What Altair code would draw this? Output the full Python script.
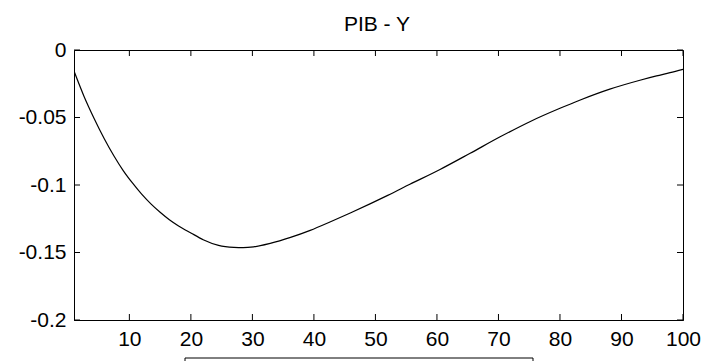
import altair as alt
import pandas as pd

# Data
x_vals = [1, 2.6, 4.25, 5.9, 7.5, 9, 10.5, 12, 13.5, 15, 16.5, 18, 20, 22, 24.5, 27, 28.5,
          30.2, 32.9, 36.2, 39.4, 42.7, 46, 49.2, 52, 55.6, 60.5, 65.4, 70.2, 75.1,
          80, 83.2, 88.1, 93, 95.7, 97.9, 100]
y_vals = [-0.0156, -0.0340, -0.0505, -0.0655, -0.0785, -0.0893, -0.0985, -0.1068, -0.1140,
          -0.1202, -0.1257, -0.1303, -0.1355, -0.1405, -0.1447, -0.1462, -0.1464,
          -0.1458, -0.1432, -0.1388, -0.1336, -0.1272, -0.1205, -0.1138, -0.1077, -0.0995,
          -0.0885, -0.0765, -0.0645, -0.0531, -0.0432, -0.0372, -0.0290, -0.0224, -0.0192,
          -0.0168, -0.0143]
x_ticks = [10, 20, 30, 40, 50, 60, 70, 80, 90, 100]
y_ticks = [0, -0.05, -0.1, -0.15, -0.2]
x_domain = [1, 100]
y_domain = [-0.2, 0]
title_text = "PIB - Y"

FONT = "Liberation Sans"
FS = 21
W, H = 609, 270
TL = 6

df = pd.DataFrame({"x": x_vals, "y": y_vals})
xt = pd.DataFrame({"x": x_ticks})
yt = pd.DataFrame({"y": y_ticks})

xscale = alt.Scale(domain=x_domain, nice=False, zero=False)
yscale = alt.Scale(domain=y_domain, nice=False, zero=False)

x_axis = alt.Axis(values=x_ticks, title=None, ticks=False, tickSize=0,
                  labelPadding=8, grid=False, labelFont=FONT, labelFontSize=FS,
                  labelColor="black", domainColor="black", domainWidth=1,
                  labelOverlap=False, labelFlush=False)
y_axis = alt.Axis(values=y_ticks, title=None, ticks=False, tickSize=0,
                  labelPadding=8, grid=False, labelFont=FONT, labelFontSize=FS,
                  labelColor="black", domainColor="black", domainWidth=1,
                  labelOverlap=False, labelFlush=False,
                  labelExpr="toString(datum.value)")

line = alt.Chart(df).mark_line(color="black", strokeWidth=1.2, clip=True,
                               interpolate="monotone").encode(
    x=alt.X("x:Q", scale=xscale, axis=x_axis),
    y=alt.Y("y:Q", scale=yscale, axis=y_axis),
)

bottom_ticks = alt.Chart(xt).mark_rule(color="black", strokeWidth=1).encode(
    x=alt.X("x:Q", scale=xscale, axis=x_axis), y=alt.value(H), y2=alt.value(H - TL))
top_ticks = alt.Chart(xt).mark_rule(color="black", strokeWidth=1).encode(
    x=alt.X("x:Q", scale=xscale, axis=x_axis), y=alt.value(0), y2=alt.value(TL))
left_ticks = alt.Chart(yt).mark_rule(color="black", strokeWidth=1).encode(
    y=alt.Y("y:Q", scale=yscale, axis=y_axis), x=alt.value(0), x2=alt.value(TL))
right_ticks = alt.Chart(yt).mark_rule(color="black", strokeWidth=1).encode(
    y=alt.Y("y:Q", scale=yscale, axis=y_axis), x=alt.value(W), x2=alt.value(W - TL))

title_mark = alt.Chart(pd.DataFrame({"t": [title_text]})).mark_text(
    font=FONT, fontSize=FS, color="black", align="center", baseline="alphabetic").encode(
    text="t:N", x=alt.value(303), y=alt.value(-19))

box = alt.Chart(pd.DataFrame({"a": [0]})).mark_rect(
    stroke="black", strokeWidth=1, fill="white").encode(
    x=alt.value(111), x2=alt.value(459), y=alt.value(308), y2=alt.value(340))

chart = alt.layer(line, bottom_ticks, top_ticks, left_ticks, right_ticks, box,
                  title_mark).properties(
    width=W, height=H,
    autosize=alt.AutoSizeParams(type="none"),
    padding={"left": 74, "top": 50, "right": 23, "bottom": 41},
    background="white",
).configure_view(stroke="black", strokeWidth=1)

chart.save("out.html", embed_options={"renderer": "svg", "actions": False})
